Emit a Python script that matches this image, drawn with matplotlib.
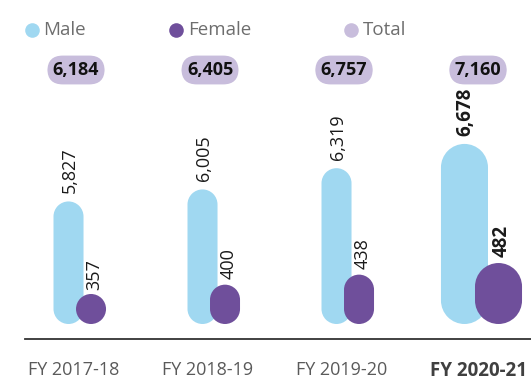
import numpy as np
import matplotlib
matplotlib.use("Agg")
import matplotlib.pyplot as plt
from matplotlib.path import Path
from matplotlib.patches import PathPatch
from matplotlib.lines import Line2D
from matplotlib.transforms import blended_transform_factory, ScaledTranslation

# ---- data ----
years = ["FY 2017-18", "FY 2018-19", "FY 2019-20", "FY 2020-21"]
male = [5827, 6005, 6319, 6678]
female = [357, 400, 438, 482]
total = [6184, 6405, 6757, 7160]
highlight = [False, False, False, True]

MALE_C = "#a0d8f1"
FEMALE_C = "#6f4f9b"
TOTAL_C = "#c8bddc"
FONT = "Open Sans"

plt.rcParams["font.family"] = [FONT, "DejaVu Sans"]

W, H = 531, 380
fig = plt.figure(figsize=(W / 100, H / 100), dpi=100)

# axes: bottom edge sits at the base of the bars, top well above them
ax_bottom_px, ax_top_px = 324, 40
ax = fig.add_axes([0, (H - ax_bottom_px) / H, 1, (ax_bottom_px - ax_top_px) / H])
ax.set_xlim((0 - 74) / 134, (W - 74) / 134)

# separate value scales for the two series
ax_h = ax_bottom_px - ax_top_px
ax.set_ylim(4014, 4014 + ax_h / 0.0676)
ax2 = ax.twinx()
ax2.set_ylim(251, 251 + ax_h / 0.264)
ax2.set_xlim(ax.get_xlim())

for a in (ax, ax2):
    for s in a.spines.values():
        s.set_visible(False)
    a.set_yticks([])
ax2.set_xticks([])

ax.spines["bottom"].set_visible(True)
ax.spines["bottom"].set_position(("outward", 10.8))
ax.spines["bottom"].set_bounds((25 - 74) / 134, (W - 74) / 134)
ax.spines["bottom"].set_color("#333333")
ax.spines["bottom"].set_linewidth(1.3)


def pill(axis, xc, w, value, color):
    """Vertical bar with fully rounded ends, from the axis base up to value."""
    base = axis.get_ylim()[0]
    x0p, y0p = axis.transData.transform((xc - w / 2, base))
    x1p, y1p = axis.transData.transform((xc + w / 2, value))
    r = (x1p - x0p) / 2
    cx = (x0p + x1p) / 2
    cb = y0p + r
    ct = max(y1p - r, cb)
    top = Path.arc(0, 180)
    bot = Path.arc(180, 360)
    vt = top.vertices * r + [cx, ct]
    vb = bot.vertices * r + [cx, cb]
    verts = np.concatenate([vt, vb, vt[:1]])
    codes = np.concatenate([top.codes, [Path.LINETO], bot.codes[1:], [Path.CLOSEPOLY]])
    verts = axis.transData.inverted().transform(verts)
    axis.add_patch(PathPatch(Path(verts, codes), facecolor=color, edgecolor="none"))


x = np.arange(len(years))
for i in x:
    big = highlight[i]
    w = 0.351 if big else 0.224
    xm = i + (-0.086 if big else -0.041)
    xf = i + (0.168 if big else 0.127)
    weight = "bold" if big else "normal"
    size = 13.5 if big else 13

    pill(ax, xm, w, male[i], MALE_C)
    pill(ax2, xf, w, female[i], FEMALE_C)

    ax.annotate(f"{male[i]:,}", xy=(xm, male[i]), xytext=(1, 6),
                textcoords="offset points", rotation=90, ha="center", va="bottom",
                fontsize=size, fontweight=weight, color="#1a1a1a")
    ax2.annotate(f"{female[i]:,}", xy=(xf, female[i]), xytext=(2.5, 4),
                 textcoords="offset points", rotation=90, ha="center", va="bottom",
                 fontsize=size, fontweight=weight, color="#1a1a1a")

# totals in pill-shaped boxes along the top
tr = blended_transform_factory(ax.transData, fig.transFigure)
for i in x:
    ax.text(i + 0.015, 1 - 70 / H, f"{total[i]:,}", transform=tr,
            ha="center", va="center", fontsize=13, fontweight="bold", color="#111111",
            bbox=dict(boxstyle="round,pad=0.3,rounding_size=0.85",
                      facecolor=TOTAL_C, edgecolor="none"))

# category labels
ax.set_xticks(x)
ax.set_xticklabels(years, fontsize=13, color="#5a5a5a")
ax.tick_params(axis="x", length=0, pad=15.5)
for lbl, big in zip(ax.get_xticklabels(), highlight):
    if big:
        lbl.set_fontweight("bold")
        lbl.set_fontsize(13.5)
        lbl.set_color("#404040")
        lbl.set_transform(lbl.get_transform()
                          + ScaledTranslation(3 / 100, 0, fig.dpi_scale_trans))

# legend row
legend_items = [("Male", MALE_C, 32, 43), ("Female", FEMALE_C, 176, 188),
                ("Total", TOTAL_C, 351, 363)]
for name, col, mx, tx in legend_items:
    fig.add_artist(Line2D([mx / W], [1 - 30 / H], marker="o", markersize=10.5,
                          markerfacecolor=col, markeredgecolor="none",
                          linestyle="none", transform=fig.transFigure))
    fig.text(tx / W, 1 - 30 / H, name, ha="left", va="center",
             fontsize=13.5, color="#6e6e6e")

fig.savefig("out.png", dpi=100, facecolor="white")
